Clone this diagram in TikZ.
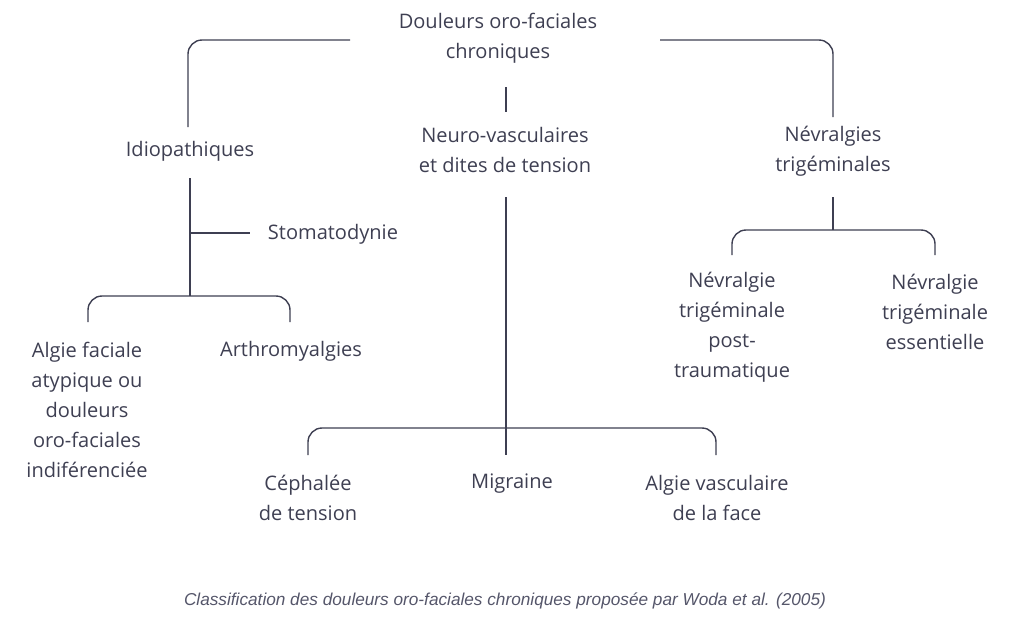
\documentclass[tikz,border=0pt]{standalone}
\usepackage{fontspec}
\setmainfont{Open Sans}
\newfontfamily\capfont{Liberation Sans}
\usetikzlibrary{positioning}
\definecolor{ink}{HTML}{3E3F52}
\definecolor{capgray}{HTML}{55566A}

\begin{document}
\begin{tikzpicture}[x=0.02cm,y=-0.02cm,
  lbl/.style={align=center,text=ink,font=\fontsize{11.4}{17}\selectfont,inner sep=1pt},
  link/.style={draw=ink,line width=0.8pt,rounded corners=8pt}
]
  \useasboundingbox (0,0) rectangle (1024,622);
  % nodes
  \node[lbl] (root) at (498,38) {Douleurs oro-faciales\\chroniques};
  \node[lbl] (idio) at (190,151) {Idiopathiques};
  \node[lbl] (neuro) at (505,150) {Neuro-vasculaires\\et dites de tension};
  \node[lbl] (nevr) at (833,151) {Névralgies\\trigéminales};
  \node[lbl] (stoma) at (333,234) {Stomatodynie};
  \node[lbl] (algie) at (87,410) {Algie faciale\\atypique ou\\douleurs\\oro-faciales\\indiférenciée};
  \node[lbl] (arthro) at (291,351) {Arthromyalgies};
  \node[lbl] (cepha) at (308,498) {Céphalée\\de tension};
  \node[lbl] (migr) at (512,484) {Migraine};
  \node[lbl] (algvas) at (717,498) {Algie vasculaire\\de la face};
  \node[lbl] (post) at (732,327) {Névralgie\\trigéminale\\post-\\traumatique};
  \node[lbl] (ess) at (935,312) {Névralgie\\trigéminale\\essentielle};
  \node[text=capgray,font=\capfont\itshape\fontsize{9.8}{12}\selectfont] (cap) at (505,601)
    {Classification des douleurs oro-faciales chroniques proposée par Woda et al. (2005)};
  % connectors
  \coordinate (r1) at (350,40);
  \coordinate (r2) at (660,40);
  \coordinate (ri) at (188,127);
  \coordinate (rn) at (833,117);
  \coordinate (st) at (250,233);
  \draw[link] (r1) -- (188,40) -- (ri);
  \draw[link] (r2) -- (833,40) -- (rn);
  \draw[link] (506,87) -- (506,112);
  \draw[link] (190,178) -- (190,296);
  \draw[link] (190,233) -- (st);
  \draw[link] (88,322) -- (88,296) -- (290,296) -- (290,322);
  \draw[link] (506,197) -- (506,455);
  \draw[link] (308,455) -- (308,428) -- (716,428) -- (716,455);
  \draw[link] (833,197) -- (833,230);
  \draw[link] (732,255) -- (732,230) -- (935,230) -- (935,255);
\end{tikzpicture}
\end{document}
